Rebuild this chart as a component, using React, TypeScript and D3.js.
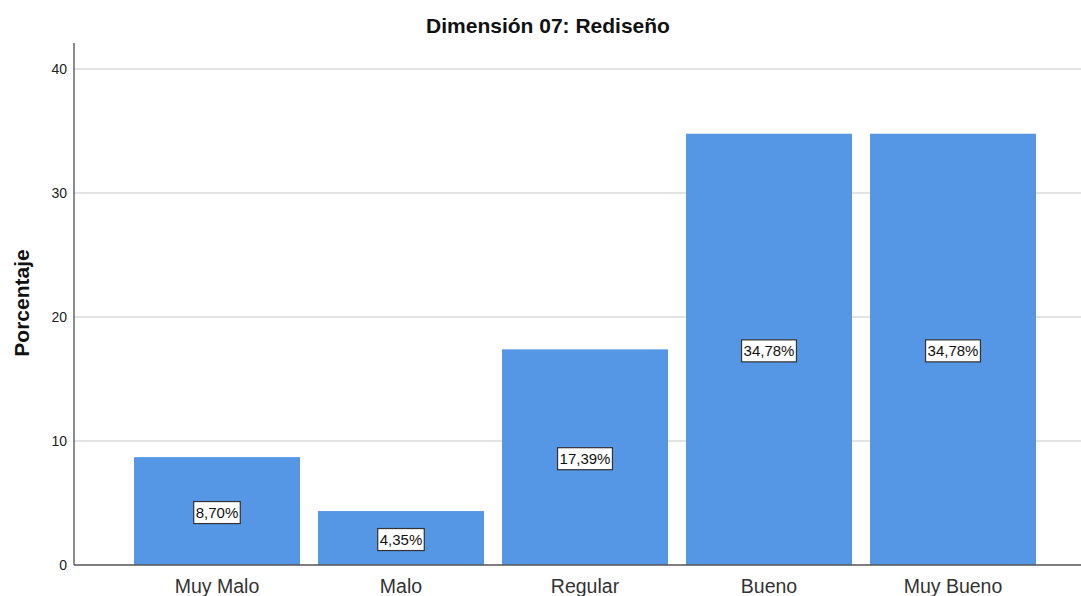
import React, { useEffect, useRef } from "react";
import * as d3 from "d3";

const categories = ["Muy Malo", "Malo", "Regular", "Bueno", "Muy Bueno"];
const percentages = [8.7, 4.35, 17.39, 34.78, 34.78];
const valueLabels = ["8,70%", "4,35%", "17,39%", "34,78%", "34,78%"];
const yTicks = [0, 10, 20, 30, 40];
const title = "Dimensión 07: Rediseño";
const yTitle = "Porcentaje";

const W = 1081;
const H = 596;
const FONT = "Arial, 'Liberation Sans', sans-serif";
const BAR = "#5596E5";

export default function App() {
  const ref = useRef<SVGSVGElement | null>(null);

  useEffect(() => {
    const svg = d3.select(ref.current);
    svg.selectAll("*").remove();

    const axisX = 74;
    const x = d3
      .scaleBand<string>()
      .domain(categories)
      .range([125, 1045])
      .paddingInner(18 / 184)
      .paddingOuter(9 / 184);
    const y = d3.scaleLinear().domain([0, 40]).range([565, 69]);

    // gridlines
    svg
      .append("g")
      .selectAll("line")
      .data(yTicks.filter((t) => t > 0))
      .join("line")
      .attr("x1", axisX)
      .attr("x2", W)
      .attr("y1", (d) => y(d))
      .attr("y2", (d) => y(d))
      .attr("stroke", "#c8c8c8")
      .attr("stroke-width", 1.2);

    // tick labels
    svg
      .append("g")
      .selectAll("text")
      .data(yTicks)
      .join("text")
      .attr("x", 67)
      .attr("y", (d) => y(d))
      .attr("dy", "0.35em")
      .attr("text-anchor", "end")
      .attr("font-family", FONT)
      .attr("font-size", 14)
      .attr("fill", "#222")
      .text((d) => String(d));

    // bars
    svg
      .append("g")
      .selectAll("rect")
      .data(categories)
      .join("rect")
      .attr("x", (d) => x(d)!)
      .attr("width", x.bandwidth())
      .attr("y", (_, i) => y(percentages[i]))
      .attr("height", (_, i) => y(0) - y(percentages[i]))
      .attr("fill", BAR);

    // axes
    svg
      .append("line")
      .attr("x1", axisX)
      .attr("x2", axisX)
      .attr("y1", 43)
      .attr("y2", y(0))
      .attr("stroke", "#666")
      .attr("stroke-width", 1.5);
    svg
      .append("line")
      .attr("x1", axisX)
      .attr("x2", W)
      .attr("y1", y(0))
      .attr("y2", y(0))
      .attr("stroke", "#555")
      .attr("stroke-width", 1.5);

    // category labels
    svg
      .append("g")
      .selectAll("text")
      .data(categories)
      .join("text")
      .attr("x", (d) => x(d)! + x.bandwidth() / 2)
      .attr("y", 593)
      .attr("text-anchor", "middle")
      .attr("font-family", FONT)
      .attr("font-size", 19.5)
      .attr("fill", "#333")
      .text((d) => d);

    // value labels in boxes
    const lg = svg
      .append("g")
      .selectAll("g")
      .data(categories)
      .join("g")
      .attr(
        "transform",
        (d, i) =>
          `translate(${x(d)! + x.bandwidth() / 2},${y(percentages[i] / 2) + 1.5})`
      );
    const rects = lg
      .append("rect")
      .attr("fill", "#fff")
      .attr("stroke", "#333")
      .attr("stroke-width", 1.2);
    const texts = lg
      .append("text")
      .attr("text-anchor", "middle")
      .attr("dy", "0.36em")
      .attr("font-family", FONT)
      .attr("font-size", 15)
      .attr("fill", "#111")
      .text((_, i) => valueLabels[i]);
    texts.each(function (_, i) {
      const w = (this as SVGTextElement).getComputedTextLength() + 4;
      d3.select(rects.nodes()[i])
        .attr("x", -w / 2)
        .attr("y", -11)
        .attr("width", w)
        .attr("height", 22);
    });

    // titles
    svg
      .append("text")
      .attr("x", 548)
      .attr("y", 33)
      .attr("text-anchor", "middle")
      .attr("font-family", FONT)
      .attr("font-size", 21)
      .attr("font-weight", "bold")
      .attr("fill", "#111")
      .text(title);
    svg
      .append("text")
      .attr("transform", `translate(29,303) rotate(-90)`)
      .attr("text-anchor", "middle")
      .attr("font-family", FONT)
      .attr("font-size", 21)
      .attr("font-weight", "bold")
      .attr("fill", "#111")
      .text(yTitle);
  }, []);

  return (
    <svg
      ref={ref}
      width={W}
      height={H}
      style={{ position: "absolute", left: 0, top: 0, background: "#fff" }}
    />
  );
}
